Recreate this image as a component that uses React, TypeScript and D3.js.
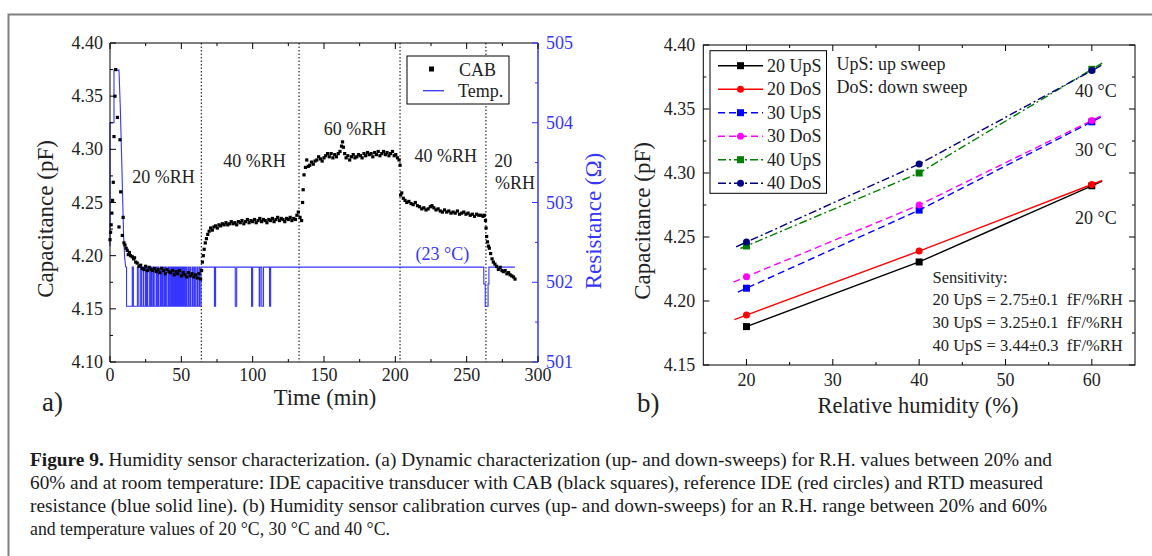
import React from 'react';
import * as d3 from 'd3';

const FONT = '"Liberation Serif", "Times New Roman", serif';
const BLUE = '#3535ff';

// ---------- Panel (a): CAB capacitance vs time ----------
const cabData: [number, number][] = [
[0,4.215],[0.4,4.222],[0.8,4.229],[1.3,4.24],[1.8,4.252],[2.3,4.269],[2.8,4.312],[3.5,4.35],[4.0,4.375],[5.2,4.33],[6.3,4.227],[7.0,4.309],[7.5,4.26],[8.6,4.219],[9.2,4.236],[9.8,4.212],[10.5,4.21],[11.3,4.207],[12.1,4.205],[12.8,4.201],[13.6,4.203],[14.4,4.2],[15.6,4.199],[16.5,4.197],[17.2,4.198],[18.0,4.194],[19.1,4.193],[20.3,4.19],[21.5,4.191],[22.6,4.188],[23.8,4.187],[25.0,4.19],[26.2,4.186],[27.5,4.189],[28.7,4.187],[30.0,4.186],[31.2,4.188],[32.5,4.185],[33.8,4.187],[35.0,4.184],[36.3,4.188],[37.6,4.186],[38.8,4.183],[40.0,4.187],[41.3,4.185],[42.5,4.184],[43.8,4.186],[45.0,4.182],[46.3,4.185],[47.5,4.183],[48.8,4.186],[50.0,4.181],[51.3,4.184],[52.5,4.182],[53.8,4.18],[55.0,4.184],[56.3,4.181],[57.5,4.183],[58.8,4.18],[60.0,4.182],[61.2,4.179],[62.4,4.183],[63.5,4.178],[64.2,4.186],[64.8,4.194],[65.4,4.2],[66.0,4.206],[66.8,4.212],[67.6,4.216],[68.5,4.22],[69.5,4.223],[70.5,4.226],[71.7,4.224],[72.8,4.227],[74.0,4.228],[75.2,4.226],[76.4,4.229],[77.6,4.228],[78.8,4.23],[80.0,4.229],[81.3,4.231],[82.5,4.229],[83.8,4.23],[85.0,4.232],[86.3,4.23],[87.5,4.231],[88.8,4.229],[90.0,4.232],[91.3,4.231],[92.5,4.233],[93.8,4.23],[95.0,4.232],[96.3,4.234],[97.5,4.231],[98.8,4.233],[100.0,4.232],[101.3,4.234],[102.5,4.231],[103.8,4.233],[105.0,4.235],[106.3,4.232],[107.5,4.234],[108.8,4.233],[110.0,4.231],[111.3,4.234],[112.5,4.233],[113.8,4.235],[115.0,4.232],[116.3,4.234],[117.5,4.236],[118.8,4.233],[120.0,4.235],[121.3,4.234],[122.5,4.232],[123.8,4.235],[125.0,4.234],[126.3,4.236],[127.5,4.233],[128.8,4.235],[130.0,4.234],[131.0,4.238],[132.0,4.241],[133.2,4.236],[134.3,4.233],[135.0,4.25],[135.4,4.262],[136.0,4.276],[137.0,4.283],[137.9,4.29],[139.0,4.284],[140.0,4.285],[141.2,4.288],[142.5,4.286],[143.7,4.289],[145.0,4.29],[146.2,4.293],[147.5,4.291],[148.7,4.289],[150.0,4.292],[151.2,4.294],[152.5,4.296],[153.7,4.293],[155.0,4.296],[156.2,4.292],[157.5,4.295],[158.7,4.293],[160.0,4.296],[161.2,4.298],[162.3,4.303],[163.0,4.307],[163.6,4.302],[164.5,4.296],[165.5,4.292],[166.7,4.294],[168.0,4.29],[169.2,4.293],[170.5,4.295],[171.7,4.292],[173.0,4.293],[174.2,4.295],[175.5,4.294],[176.7,4.292],[178.0,4.296],[179.2,4.294],[180.5,4.297],[181.7,4.295],[183.0,4.296],[184.2,4.293],[185.5,4.297],[186.7,4.295],[188.0,4.298],[189.2,4.294],[190.5,4.296],[191.7,4.298],[193.0,4.295],[194.2,4.297],[195.5,4.294],[196.7,4.296],[198.0,4.298],[199.2,4.294],[200.3,4.295],[201.5,4.292],[202.6,4.29],[203.3,4.285],[203.7,4.257],[204.5,4.259],[205.6,4.254],[206.8,4.252],[208.0,4.25],[209.5,4.251],[211.0,4.249],[212.5,4.248],[214.0,4.25],[215.5,4.247],[217.0,4.246],[218.5,4.244],[220.0,4.245],[221.5,4.243],[223.0,4.244],[224.5,4.246],[225.7,4.247],[227.0,4.245],[228.5,4.243],[230.0,4.244],[231.5,4.242],[233.0,4.241],[234.5,4.243],[236.0,4.241],[237.5,4.242],[239.0,4.24],[240.5,4.241],[242.0,4.24],[243.5,4.242],[245.0,4.239],[246.5,4.24],[248.0,4.241],[249.5,4.239],[251.0,4.24],[252.5,4.238],[254.0,4.239],[255.5,4.237],[257.0,4.239],[258.5,4.238],[260.0,4.238],[261.5,4.237],[262.4,4.238],[263.2,4.233],[263.6,4.226],[264.0,4.218],[264.6,4.213],[265.3,4.209],[265.9,4.207],[266.8,4.202],[267.8,4.197],[268.7,4.194],[269.8,4.192],[271.0,4.19],[272.2,4.187],[273.5,4.189],[274.7,4.186],[275.7,4.185],[277.0,4.186],[278.2,4.183],[279.4,4.184],[280.4,4.182],[281.6,4.181],[282.8,4.18],[283.9,4.178]
];

// RTD resistance (Temp.) – initial transient (linear) and stepped part
const tempRampTime = [0, 0, 2.8, 2.8, 6.3, 7.2, 8.4, 9.5, 10.3, 11];
const tempRampRes = [502.45, 504.0, 504.0, 504.66, 504.66, 504.2, 503.4, 502.6, 502.3, 502.19];
const RH = 502.19, RL = 501.70, RM = 501.98;
const tempStepTime = [11, 11.6, 15.6, 16.4, 19.2, 20.2, 21.5, 22.0, 23.2, 23.6, 24.8, 25.3, 26.0, 26.5, 27.8, 28.2, 29.0, 29.6, 30.5, 31.0, 32.3, 32.7, 33.5, 34.1, 35.2, 35.6, 36.4, 36.9, 37.8, 38.3, 39.0, 39.5, 40.6, 41.0, 41.8, 42.2, 43.0, 43.4, 44.0, 44.4, 45.0, 45.3, 45.8, 46.1, 46.6, 46.9, 47.3, 47.6, 48.0, 48.3, 48.7, 49.0, 49.4, 49.7, 50.1, 50.4, 50.9, 51.3, 52.0, 52.5, 53.3, 53.8, 54.8, 55.3, 56.2, 56.7, 57.8, 58.3, 59.2, 59.8, 60.9, 61.4, 62.4, 62.9, 63.8, 73.2, 74.0, 87.8, 88.8, 99.2, 100.0, 104.6, 105.2, 106.4, 107.6, 111.8, 112.6, 262.0, 263.0, 265.0, 265.6, 283.8];
const tempStepRes = [RH, RL, RH, RL, RH, RL, RH, RL, RH, RL, RH, RL, RH, RL, RH, RL, RH, RL, RH, RL, RH, RL, RH, RL, RH, RL, RH, RL, RH, RL, RH, RL, RH, RL, RH, RL, RH, RL, RH, RL, RH, RL, RH, RL, RH, RL, RH, RL, RH, RL, RH, RL, RH, RL, RH, RL, RH, RL, RH, RL, RH, RL, RH, RL, RH, RL, RH, RL, RH, RL, RH, RL, RH, RL, RH, RL, RH, RL, RH, RL, RH, RL, RH, RL, RH, RL, RH, RM, RL, RM, RH, RH];

const phaseBoundaries = [64, 132.5, 203.3, 263.5];
const phaseLabels = [
  { text: '20 %RH', t: 37.5, c: 4.2683 },
  { text: '40 %RH', t: 101.3, c: 4.2834 },
  { text: '60 %RH', t: 171.8, c: 4.3135 },
  { text: '40 %RH', t: 235.3, c: 4.2881 },
  { text: '20', t: 275.6, c: 4.2837 },
  { text: '%RH', t: 283.9, c: 4.2624 },
];
const tempNote = { text: '(23 °C)', t: 233, c: 4.1959 };

const aXTicks = [0, 50, 100, 150, 200, 250, 300];
const aXMinor = [25, 75, 125, 175, 225, 275];
const aYTicks = [4.10, 4.15, 4.20, 4.25, 4.30, 4.35, 4.40];
const aYMinor = [4.125, 4.175, 4.225, 4.275, 4.325, 4.375];
const aRTicks = [501, 502, 503, 504, 505];
const aRMinor = [501.5, 502.5, 503.5, 504.5];

// ---------- Panel (b): calibration curves ----------
const rhLevels = [20, 40, 60];
const seriesNames = ['20 UpS', '20 DoS', '30 UpS', '30 DoS', '40 UpS', '40 DoS'];
const seriesValues = [
  [4.180, 4.2305, 4.290],
  [4.189, 4.239, 4.291],
  [4.210, 4.271, 4.340],
  [4.219, 4.275, 4.341],
  [4.243, 4.300, 4.381],
  [4.246, 4.307, 4.380],
];
const seriesColors = ['#000000', '#ff0000', '#0000ff', '#ff00ff', '#008000', '#000080'];
const seriesDash = ['', '', '7,4', '7,4', '8,3,2,3', '8,3,2,3'];
const seriesMarker = ['square', 'circle', 'square', 'circle', 'square', 'circle'];
const seriesExtend = [[0, 1.2], [1.4, 1.2], [1.0, 1.2], [1.5, 1.2], [0.7, 1.2], [1.2, 1.2]];

const bXTicks = [20, 30, 40, 50, 60];
const bXMinor = [25, 35, 45, 55];
const bYTicks = [4.15, 4.20, 4.25, 4.30, 4.35, 4.40];
const bYMinor = [4.175, 4.225, 4.275, 4.325, 4.375];
const sensitivityLines = ['Sensitivity:', '20 UpS = 2.75\u00b10.1  fF/%RH', '30 UpS = 3.25\u00b10.1  fF/%RH', '40 UpS = 3.44\u00b10.3  fF/%RH'];
const tempLabels = [{ text: '40 \u00b0C', v: 4.359 }, { text: '30 \u00b0C', v: 4.313 }, { text: '20 \u00b0C', v: 4.26 }];

const captionLines = [
  ' Humidity sensor characterization. (a) Dynamic characterization (up- and down-sweeps) for R.H. values between 20% and',
  '60% and at room temperature: IDE capacitive transducer with CAB (black squares), reference IDE (red circles) and RTD measured',
  'resistance (blue solid line). (b) Humidity sensor calibration curves (up- and down-sweeps) for an R.H. range between 20% and 60%',
  'and temperature values of 20 \u00b0C, 30 \u00b0C and 40 \u00b0C.',
];

export default function App() {
  const xA = d3.scaleLinear().domain([0, 300]).range([110, 538]);
  const yA = d3.scaleLinear().domain([4.10, 4.40]).range([362, 43]);
  const rA = d3.scaleLinear().domain([501, 505]).range([362, 43]);
  const xB = d3.scaleLinear().domain([15, 65]).range([703.3, 1135]);
  const yB = d3.scaleLinear().domain([4.15, 4.40]).range([365, 45]);

  const rampLine = d3.line<number>().x((_, i) => xA(tempRampTime[i])).y((d) => rA(d));
  const stepLine = d3.line<number>().x((_, i) => xA(tempStepTime[i])).y((d) => rA(d)).curve(d3.curveStepAfter);

  const [ax0, ax1] = xA.range();
  const [ay0, ay1] = yA.range();
  const [bx0, bx1] = xB.range();
  const [by0, by1] = yB.range();

  const lineB = d3.line<[number, number]>().x((d) => xB(d[0])).y((d) => yB(d[1]));

  const seriesPts = seriesValues.map((vals, si) => {
    const pts: [number, number][] = rhLevels.map((x, i) => [x, vals[i]]);
    const [e0, e1] = seriesExtend[si];
    const s0 = (vals[1] - vals[0]) / (rhLevels[1] - rhLevels[0]);
    const s1 = (vals[2] - vals[1]) / (rhLevels[2] - rhLevels[1]);
    const start: [number, number] = [rhLevels[0] - e0, vals[0] - s0 * e0];
    const end: [number, number] = [rhLevels[2] + e1, vals[2] + s1 * e1];
    return { pts, path: [start, ...pts, end] };
  });

  const marker = (kind: string, cx: number, cy: number, color: string, size = 7) =>
    kind === 'square' ? (
      <rect x={cx - size / 2} y={cy - size / 2} width={size} height={size} fill={color} />
    ) : (
      <circle cx={cx} cy={cy} r={size / 2} fill={color} />
    );

  return (
    <svg width={1152} height={556} style={{ position: 'absolute', left: 0, top: 0, background: '#fff' }} fontFamily={FONT}>
      <rect x={0} y={0} width={1152} height={556} fill="#fff" />
      <path d="M8.5,570 V14.5 H1170" fill="none" stroke="#808080" strokeWidth={2} />

      {/* ================= Panel a ================= */}
      <g>
        {phaseBoundaries.map((t, i) => (
          <line key={i} x1={xA(t)} x2={xA(t)} y1={ay1} y2={ay0} stroke="#000" strokeWidth={1} strokeDasharray="1.5,2" />
        ))}
        <path d={rampLine(tempRampRes) || ''} fill="none" stroke={BLUE} strokeWidth={1.1} />
        <path d={stepLine(tempStepRes) || ''} fill="none" stroke={BLUE} strokeWidth={1.1} />
        {cabData.map(([t, v], i) => (
          <rect key={i} x={xA(t) - 1.6} y={yA(v) - 1.6} width={3.2} height={3.2} fill="#000" />
        ))}
        <line x1={ax0} x2={ax1} y1={ay1} y2={ay1} stroke="#000" />
        <line x1={ax0} x2={ax1} y1={ay0} y2={ay0} stroke="#000" />
        <line x1={ax0} x2={ax0} y1={ay1} y2={ay0} stroke="#000" />
        <line x1={ax1} x2={ax1} y1={ay1} y2={ay0} stroke={BLUE} strokeWidth={1.5} />
        {aXTicks.map((t) => (
          <g key={t}>
            <line x1={xA(t)} x2={xA(t)} y1={ay0} y2={ay0 - 6} stroke="#000" />
            <line x1={xA(t)} x2={xA(t)} y1={ay1} y2={ay1 + 6} stroke="#000" />
            <text x={xA(t)} y={ay0 + 19} fontSize={18} textAnchor="middle" fill="#222">{t}</text>
          </g>
        ))}
        {aXMinor.map((t) => (
          <g key={t}>
            <line x1={xA(t)} x2={xA(t)} y1={ay0} y2={ay0 - 3} stroke="#000" />
            <line x1={xA(t)} x2={xA(t)} y1={ay1} y2={ay1 + 3} stroke="#000" />
          </g>
        ))}
        {aYTicks.map((v) => (
          <g key={v}>
            <line x1={ax0} x2={ax0 + 6} y1={yA(v)} y2={yA(v)} stroke="#000" />
            <text x={ax0 - 7} y={yA(v) + 6} fontSize={18} textAnchor="end" fill="#222">{v.toFixed(2)}</text>
          </g>
        ))}
        {aYMinor.map((v) => (
          <line key={v} x1={ax0} x2={ax0 + 3} y1={yA(v)} y2={yA(v)} stroke="#000" />
        ))}
        {aRTicks.map((v) => (
          <g key={v}>
            <line x1={ax1} x2={ax1 - 6} y1={rA(v)} y2={rA(v)} stroke={BLUE} />
            <text x={ax1 + 8} y={rA(v) + 6} fontSize={18} fill={BLUE}>{v}</text>
          </g>
        ))}
        {aRMinor.map((v) => (
          <line key={v} x1={ax1} x2={ax1 - 3} y1={rA(v)} y2={rA(v)} stroke={BLUE} />
        ))}
        {phaseLabels.map((p, i) => (
          <text key={i} x={xA(p.t)} y={yA(p.c)} fontSize={18} textAnchor="middle" fill="#222">{p.text}</text>
        ))}
        <text x={xA(tempNote.t)} y={yA(tempNote.c)} fontSize={18} textAnchor="middle" fill={BLUE}>{tempNote.text}</text>
        <rect x={407} y={56} width={102} height={48} fill="#fff" stroke="#000" strokeWidth={1} />
        <rect x={429} y={66.5} width={5} height={5} fill="#000" />
        <text x={459} y={76} fontSize={18} fill="#222">CAB</text>
        <line x1={423} x2={444} y1={90.7} y2={90.7} stroke={BLUE} strokeWidth={1.3} />
        <text x={458} y={97} fontSize={18} fill="#222">Temp.</text>
        <text x={(ax0 + ax1) / 2 + 1} y={405} fontSize={22.5} textAnchor="middle" fill="#222">Time (min)</text>
        <text transform="translate(53,219) rotate(-90)" fontSize={23} textAnchor="middle" fill="#222">Capacitance (pF)</text>
        <text transform="translate(601,221) rotate(-90)" fontSize={23} textAnchor="middle" fill={BLUE}>Resistance (Ω)</text>
        <text x={42} y={411} fontSize={27} fill="#222">a)</text>
      </g>

      {/* ================= Panel b ================= */}
      <g>
        {seriesPts.map((s, si) => (
          <path key={si} d={lineB(s.path) || ''} fill="none" stroke={seriesColors[si]} strokeWidth={1.4} strokeDasharray={seriesDash[si]} />
        ))}
        {seriesPts.map((s, si) => (
          <g key={si}>
            {s.pts.map(([x, v], i) => (
              <g key={i}>{marker(seriesMarker[si], xB(x), yB(v), seriesColors[si])}</g>
            ))}
          </g>
        ))}
        <rect x={bx0} y={by1} width={bx1 - bx0} height={by0 - by1} fill="none" stroke="#000" />
        {bXTicks.map((t) => (
          <g key={t}>
            <line x1={xB(t)} x2={xB(t)} y1={by0} y2={by0 - 6} stroke="#000" />
            <line x1={xB(t)} x2={xB(t)} y1={by1} y2={by1 + 6} stroke="#000" />
            <text x={xB(t)} y={by0 + 21} fontSize={18} textAnchor="middle" fill="#222">{t}</text>
          </g>
        ))}
        {bXMinor.map((t) => (
          <g key={t}>
            <line x1={xB(t)} x2={xB(t)} y1={by0} y2={by0 - 3} stroke="#000" />
            <line x1={xB(t)} x2={xB(t)} y1={by1} y2={by1 + 3} stroke="#000" />
          </g>
        ))}
        {bYTicks.map((v) => (
          <g key={v}>
            <line x1={bx0} x2={bx0 + 6} y1={yB(v)} y2={yB(v)} stroke="#000" />
            <line x1={bx1} x2={bx1 - 6} y1={yB(v)} y2={yB(v)} stroke="#000" />
            <text x={bx0 - 8} y={yB(v) + 6} fontSize={18} textAnchor="end" fill="#222">{v.toFixed(2)}</text>
          </g>
        ))}
        {bYMinor.map((v) => (
          <g key={v}>
            <line x1={bx0} x2={bx0 + 3} y1={yB(v)} y2={yB(v)} stroke="#000" />
            <line x1={bx1} x2={bx1 - 3} y1={yB(v)} y2={yB(v)} stroke="#000" />
          </g>
        ))}
        <rect x={710} y={50.7} width={116.5} height={142.6} fill="#fff" stroke="#000" strokeWidth={1} />
        {seriesNames.map((name, i) => {
          const y = 65.7 + i * 23.5;
          return (
            <g key={name}>
              <line x1={718} x2={763} y1={y} y2={y} stroke={seriesColors[i]} strokeWidth={1.4} strokeDasharray={seriesDash[i]} />
              {marker(seriesMarker[i], 740.5, y, seriesColors[i], 7)}
              <text x={767} y={y + 6} fontSize={18} fill="#222">{name}</text>
            </g>
          );
        })}
        <text x={836.5} y={70} fontSize={18} fill="#222">UpS: up sweep</text>
        <text x={836.5} y={93} fontSize={18} fill="#222">DoS: down sweep</text>
        {tempLabels.map((l) => (
          <text key={l.text} x={1075} y={yB(l.v)} fontSize={18} fill="#222">{l.text}</text>
        ))}
        {sensitivityLines.map((s, i) => (
          <text key={i} x={932.5} y={282.7 + i * 22.7} fontSize={16.5} fill="#222" style={{ whiteSpace: 'pre' }}>{s}</text>
        ))}
        <text x={918} y={413} fontSize={22.5} textAnchor="middle" fill="#222">Relative humidity (%)</text>
        <text transform="translate(650,221) rotate(-90)" fontSize={23} textAnchor="middle" fill="#222">Capacitance (pF)</text>
        <text x={637} y={412} fontSize={27} fill="#222">b)</text>
      </g>

      {/* ================= Caption ================= */}
      <g fontSize={19} fill="#1a1a1a">
        <text x={30} y={465.7} textLength={1022} lengthAdjust="spacingAndGlyphs">
          <tspan fontWeight="bold">Figure 9.</tspan>
          <tspan>{captionLines[0]}</tspan>
        </text>
        <text x={30} y={488.8} textLength={1013} lengthAdjust="spacingAndGlyphs">{captionLines[1]}</text>
        <text x={30} y={511.9} textLength={1017} lengthAdjust="spacingAndGlyphs">{captionLines[2]}</text>
        <text x={30} y={535} textLength={360} lengthAdjust="spacingAndGlyphs">{captionLines[3]}</text>
      </g>
    </svg>
  );
}
